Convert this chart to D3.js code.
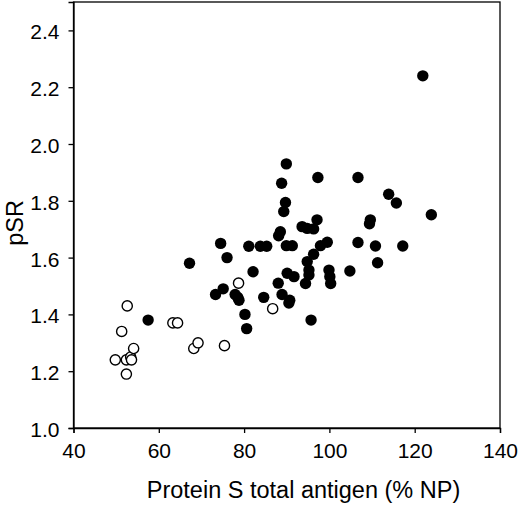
<!DOCTYPE html>
<html>
<head>
<meta charset="utf-8">
<script src="https://cdn.jsdelivr.net/npm/d3@7"></script>
<style>
  html, body { margin: 0; padding: 0; background: #fff; }
  svg { display: block; font-family: "Liberation Sans", Arial, Helvetica, sans-serif; }
</style>
</head>
<body>
<svg id="chart" width="520" height="506"></svg>
<script>
// Filled circles: [protein S total antigen (% NP), pSR]
const filledX = [57.5, 67.2, 74.5, 76.0, 73.3, 75.1, 77.9, 78.5, 78.8, 80.2, 80.6, 81.1, 82.1, 83.8, 85.3, 84.6,
  88.0, 88.9, 90.7, 90.5, 90.1, 91.7, 94.8, 95.2, 95.2, 94.4, 95.7, 96.3, 97.9, 99.5, 99.9, 100.1, 100.3,
  104.8, 111.3, 106.7, 110.8, 117.2, 89.9, 91.3, 88.1, 88.5, 93.6, 94.8, 96.3, 97.1, 109.6, 109.4,
  89.3, 89.7, 88.8, 89.9, 97.3, 106.7, 113.9, 115.7, 123.9, 121.9];
const filledY = [1.38, 1.58, 1.65, 1.60, 1.47, 1.49, 1.47, 1.46, 1.45, 1.40, 1.35, 1.64, 1.55, 1.64, 1.64, 1.46,
  1.51, 1.47, 1.45, 1.44, 1.545, 1.533, 1.586, 1.556, 1.539, 1.509, 1.38, 1.612, 1.642, 1.654, 1.556, 1.533, 1.509,
  1.553, 1.582, 1.653, 1.641, 1.641, 1.642, 1.642, 1.677, 1.691, 1.709, 1.703, 1.701, 1.733, 1.733, 1.719,
  1.762, 1.794, 1.862, 1.930, 1.882, 1.882, 1.823, 1.792, 1.751, 2.24];
// Open circles
const openX = [49.8, 51.3, 52.6, 52.4, 53.4, 53.6, 54.1, 52.4, 63.3, 64.4, 68.2, 69.2, 75.4, 78.7, 86.7];
const openY = [1.24, 1.34, 1.43, 1.24, 1.25, 1.24, 1.28, 1.19, 1.37, 1.37, 1.28, 1.30, 1.29, 1.51, 1.42];

const xTicks = [40, 60, 80, 100, 120, 140];
const yTicks = [1.0, 1.2, 1.4, 1.6, 1.8, 2.0, 2.2, 2.4];
const xTitle = "Protein S total antigen (% NP)";
const yTitle = "pSR";

(function () {
const svg = d3.select("#chart");
const mLeft = 73.5, mRight = 500, mTop = 2, mBottom = 428;

const x = d3.scaleLinear().domain([40, 140]).range([mLeft, mRight]);
const y = d3.scaleLinear().domain([1.0, 2.5]).range([mBottom, mTop]);

// frame
svg.append("rect")
  .attr("x", mLeft).attr("y", mTop)
  .attr("width", mRight - mLeft).attr("height", mBottom - mTop)
  .attr("fill", "none").attr("stroke", "#000").attr("stroke-width", 1.3);

const xAxis = svg.append("g")
  .attr("transform", `translate(0,${mBottom})`)
  .call(d3.axisBottom(x).tickValues(xTicks).tickSize(5).tickPadding(10).tickFormat(d3.format("d")));
const yAxis = svg.append("g")
  .attr("transform", `translate(${mLeft},0)`)
  .call(d3.axisLeft(y).tickValues(yTicks).tickSize(5).tickPadding(9).tickFormat(d3.format(".1f")));

[xAxis, yAxis].forEach(g => {
  g.select(".domain").attr("stroke", "#000").attr("stroke-width", 1.3);
  g.selectAll(".tick line").attr("stroke", "#000").attr("stroke-width", 1.3);
  g.selectAll(".tick text").attr("fill", "#000").style("font-size", "21px");
});
xAxis.selectAll(".tick text").attr("dy", "0.71em");
yAxis.selectAll(".tick text").attr("dy", "0.40em");

// titles
svg.append("text")
  .attr("x", (145 + 462) / 2).attr("y", 498)
  .attr("text-anchor", "middle")
  .style("font-size", "23.5px").attr("fill", "#000")
  .text(xTitle);
svg.append("text")
  .attr("transform", "translate(23,223) rotate(-90)")
  .attr("text-anchor", "middle")
  .style("font-size", "23.5px").attr("fill", "#000")
  .text(yTitle);

// points
const filled = d3.zip(filledX, filledY);
const open = d3.zip(openX, openY);

svg.append("g").selectAll("circle.open")
  .data(open).join("circle")
  .attr("class", "open")
  .attr("cx", d => x(d[0])).attr("cy", d => y(d[1]))
  .attr("r", 5.1)
  .attr("fill", "#fff").attr("stroke", "#000").attr("stroke-width", 1.4);

svg.append("g").selectAll("circle.filled")
  .data(filled).join("circle")
  .attr("class", "filled")
  .attr("cx", d => x(d[0])).attr("cy", d => y(d[1]))
  .attr("r", 5.7)
  .attr("fill", "#000");
})();
</script>
</body>
</html>
